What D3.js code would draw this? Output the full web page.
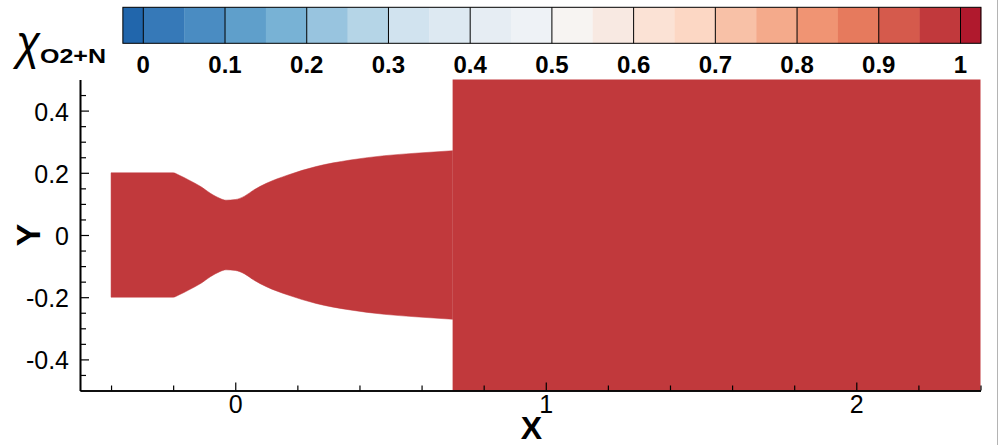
<!DOCTYPE html>
<html>
<head>
<meta charset="utf-8">
<script src="https://cdn.jsdelivr.net/npm/d3@7"></script>
<style>
  html, body { margin: 0; padding: 0; background: #fff; }
  svg { display: block; }
  text { font-family: "Liberation Sans", Arial, sans-serif; }
</style>
</head>
<body>
<svg id="chart" width="1001" height="445"></svg>
<script>
// ---------- data ----------
// nozzle upper wall (x, radius); lower wall is the mirror image
const nozzleX = [-0.4, -0.2, -0.18, -0.15, -0.11, -0.08, -0.05, -0.03, 0.0, 0.03, 0.06, 0.1, 0.17, 0.26, 0.37, 0.48, 0.58, 0.7];
const nozzleR = [0.2, 0.2, 0.192, 0.177, 0.155, 0.134, 0.118, 0.112, 0.114, 0.125, 0.145, 0.166, 0.193, 0.22, 0.241, 0.255, 0.263, 0.271];
// downstream (plume) domain extent
const plumeX = [0.7, 2.4];
const plumeY = [-0.5, 0.5];
// mass-fraction value in the whole field
const fieldValue = 0.98;

// axes ticks
const xMajorTicks = [0, 1, 2];
const xTickLabels = ["0", "1", "2"];
const xMinorTicks = [-0.4, -0.2, 0.2, 0.4, 0.6, 0.8, 1.2, 1.4, 1.6, 1.8, 2.2, 2.4];
const yMajorTicks = [-0.4, -0.2, 0, 0.2, 0.4];
const yTickLabels = ["-0.4", "-0.2", "0", "0.2", "0.4"];
const yMinorTicks = [-0.45, -0.35, -0.3, -0.25, -0.15, -0.1, -0.05, 0.05, 0.1, 0.15, 0.25, 0.3, 0.35, 0.45];

// colour bar
const cbLevels = [0, 0.05, 0.1, 0.15, 0.2, 0.25, 0.3, 0.35, 0.4, 0.45, 0.5, 0.55, 0.6, 0.65, 0.7, 0.75, 0.8, 0.85, 0.9, 0.95, 1.0];
const cbTicks = [0, 0.1, 0.2, 0.3, 0.4, 0.5, 0.6, 0.7, 0.8, 0.9, 1];
const cbTickLabels = ["0", "0.1", "0.2", "0.3", "0.4", "0.5", "0.6", "0.7", "0.8", "0.9", "1"];
const cbExtent = [-0.025, 1.025];

// ---------- styles ----------
const cbColors = ["#2166ac", "#3679b8", "#4a8cc2", "#5f9fcb", "#78b2d5", "#98c4df", "#b5d5e7",
  "#d1e3ef", "#dde9f2", "#e6edf3", "#eef2f6", "#f7f4f2", "#f8e9e2", "#fbe2d5", "#fcd7c4",
  "#f8c1a7", "#f4aa8b", "#f09473", "#e67a5d", "#d55a4c", "#c1393c", "#b0192d"];

const svg = d3.select("#chart");

// ---------- scales ----------
const x = d3.scaleLinear().domain([-0.5, 2.4]).range([80, 980.5]);
const y = d3.scaleLinear().domain([-0.5, 0.5]).range([390.5, 79.5]);
const color = d3.scaleThreshold().domain(cbLevels).range(cbColors);
const cbX = d3.scaleLinear().domain([0, 1]).range([143.3, 960.5]);

// ---------- field ----------
const fill = color(fieldValue);
const wall = nozzleX.map((d, i) => ({x: d, r: nozzleR[i]}));
const area = d3.area()
  .x(d => x(d.x))
  .y0(d => y(-d.r))
  .y1(d => y(d.r))
  .curve(d3.curveMonotoneX);
svg.append("path").datum(wall).attr("d", area).attr("fill", fill).attr("stroke", fill).attr("stroke-width", 0.5);

svg.append("rect")
  .attr("x", x(plumeX[0])).attr("y", y(plumeY[1]))
  .attr("width", x(plumeX[1]) - x(plumeX[0]))
  .attr("height", y(plumeY[0]) - y(plumeY[1]))
  .attr("fill", fill);

// ---------- axes ----------
function styleAxis(g) {
  g.selectAll(".domain").attr("stroke", "#000").attr("stroke-width", 1.6);
  g.selectAll(".tick line").attr("stroke", "#000").attr("stroke-width", 1.2);
}

// x minor
svg.append("g").attr("transform", `translate(0,${y(-0.5)})`)
  .call(d3.axisBottom(x).tickValues(xMinorTicks).tickSize(-5).tickSizeOuter(0).tickFormat(""))
  .call(styleAxis);
// x major
const gx = svg.append("g").attr("transform", `translate(0,${y(-0.5)})`)
  .call(d3.axisBottom(x).tickValues(xMajorTicks).tickSize(-8).tickSizeOuter(0).tickPadding(5)
    .tickFormat((d, i) => xTickLabels[i]))
  .call(styleAxis);
gx.selectAll("text").attr("font-size", 25).attr("font-family", "Liberation Sans, Arial, sans-serif").attr("fill", "#000");

// y minor
svg.append("g").attr("transform", `translate(${x(-0.5)},0)`)
  .call(d3.axisLeft(y).tickValues(yMinorTicks).tickSize(-6).tickSizeOuter(0).tickFormat(""))
  .call(styleAxis);
// y major
const gy = svg.append("g").attr("transform", `translate(${x(-0.5)},0)`)
  .call(d3.axisLeft(y).tickValues(yMajorTicks).tickSize(-9).tickSizeOuter(0).tickPadding(11)
    .tickFormat((d, i) => yTickLabels[i]))
  .call(styleAxis);
gy.selectAll("text").attr("font-size", 25).attr("dy", "0.38em").attr("font-family", "Liberation Sans, Arial, sans-serif").attr("fill", "#000");

// axis titles
svg.append("text").attr("x", 531.5).attr("y", 438.5).attr("text-anchor", "middle")
  .attr("font-size", 32).attr("font-weight", "bold").text("X");
svg.append("text").attr("transform", "translate(40,235) rotate(-90)").attr("text-anchor", "middle")
  .attr("font-size", 34).attr("font-weight", "bold").text("Y");

// ---------- colour bar ----------
const cbTop = 7.3, cbBottom = 43.3;
const bounds = [cbExtent[0]].concat(cbLevels, [cbExtent[1]]);
const cells = d3.range(bounds.length - 1).map(i => ({a: bounds[i], b: bounds[i + 1], c: cbColors[i]}));
const cb = svg.append("g");
cb.selectAll("rect.cell").data(cells).join("rect").attr("class", "cell")
  .attr("x", d => cbX(d.a)).attr("y", cbTop)
  .attr("width", d => cbX(d.b) - cbX(d.a) + 0.3).attr("height", cbBottom - cbTop)
  .attr("fill", d => d.c);
cb.selectAll("line.sep").data(cbTicks).join("line").attr("class", "sep")
  .attr("x1", d => cbX(d)).attr("x2", d => cbX(d))
  .attr("y1", cbTop).attr("y2", cbBottom).attr("stroke", "#000").attr("stroke-width", 1);
cb.append("rect").attr("x", cbX(cbExtent[0])).attr("y", cbTop)
  .attr("width", cbX(cbExtent[1]) - cbX(cbExtent[0])).attr("height", cbBottom - cbTop)
  .attr("fill", "none").attr("stroke", "#000").attr("stroke-width", 1);
cb.selectAll("text.lab").data(cbTicks).join("text").attr("class", "lab")
  .attr("x", d => cbX(d)).attr("y", 72.7).attr("text-anchor", "middle")
  .attr("font-size", 24).attr("font-weight", "bold").text((d, i) => cbTickLabels[i]);

// colour-bar title: chi with subscript
svg.append("text").attr("transform", "translate(16,59) scale(0.9,1)")
  .attr("font-family", "Liberation Serif, Times New Roman, serif").attr("font-style", "italic")
  .attr("font-size", 49)
  .text("\u03C7");
svg.append("text").attr("x", 40).attr("y", 62.7)
  .attr("font-size", 21).attr("font-weight", "bold")
  .attr("textLength", 66).attr("lengthAdjust", "spacingAndGlyphs").text("O2+N");

// right-edge frame line
svg.append("line").attr("x1", 997.5).attr("x2", 997.5).attr("y1", 0).attr("y2", 445)
  .attr("stroke", "#b4b4b4").attr("stroke-width", 1);
</script>
</body>
</html>
